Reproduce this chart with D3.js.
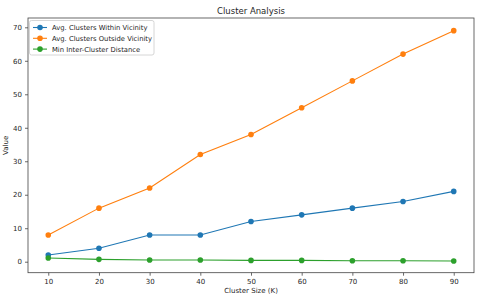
<!DOCTYPE html>
<html>
<head>
<meta charset="utf-8">
<script src="https://cdn.jsdelivr.net/npm/d3@7"></script>
<style>
body{margin:0;background:#fff;}
text{font-family:"DejaVu Sans",sans-serif;fill:#262626;}
</style>
</head>
<body>
<script>
// data
var clusterSizes = [10,20,30,40,50,60,70,80,90];
var withinVicinity = [2,4,8,8,12,14,16,18,21];
var outsideVicinity = [8,16,22,32,38,46,54,62,69];
var minDistance = [1.1,0.7,0.5,0.5,0.4,0.4,0.3,0.3,0.2];
var seriesNames = ["Avg. Clusters Within Vicinity","Avg. Clusters Outside Vicinity","Min Inter-Cluster Distance"];
var colors = ["#1f77b4","#ff7f0e","#2ca02c"];
var xTicks = [10,20,30,40,50,60,70,80,90];
var yTicks = [0,10,20,30,40,50,60,70];

var width = 480, height = 297;
var plotLeft = 28, plotRight = 474, plotTop = 18, plotBottom = 272.7;

var svg = d3.select("body").append("svg")
  .attr("width", width)
  .attr("height", height);

var x = d3.scaleLinear().domain([6,94]).range([plotLeft,plotRight]);
var y = d3.scaleLinear().domain([-3.28,72.78]).range([plotBottom,plotTop]);

var xAxis = svg.append("g")
  .attr("transform","translate(0,"+plotBottom+")")
  .call(d3.axisBottom(x).tickValues(xTicks).tickSize(3).tickPadding(3));
var yAxis = svg.append("g")
  .attr("transform","translate("+plotLeft+",0)")
  .call(d3.axisLeft(y).tickValues(yTicks).tickSize(3).tickPadding(3));
[xAxis,yAxis].forEach(function(a){
  a.select(".domain").remove();
  a.selectAll("text").attr("font-size","7px").attr("font-family","DejaVu Sans").style("fill","#262626");
  a.selectAll("line").attr("stroke","#444").attr("stroke-width",0.8);
});

// frame
svg.append("rect")
  .attr("x",plotLeft).attr("y",plotTop)
  .attr("width",plotRight-plotLeft).attr("height",plotBottom-plotTop)
  .style("fill","none").style("stroke","#444").attr("stroke-width",0.8);

var allSeries = [withinVicinity,outsideVicinity,minDistance];
var line = d3.line()
  .x(function(d,i){return x(clusterSizes[i]);})
  .y(function(d){return y(d);});

allSeries.forEach(function(s,k){
  svg.append("path").datum(s)
    .attr("d",line)
    .style("fill","none")
    .style("stroke",colors[k])
    .attr("stroke-width",1.1);
  svg.append("g").selectAll("circle").data(s).enter().append("circle")
    .attr("cx",function(d,i){return x(clusterSizes[i]);})
    .attr("cy",function(d){return y(d);})
    .attr("r",2.8)
    .style("fill",colors[k]);
});

// title and axis labels
svg.append("text").attr("x",(plotLeft+plotRight)/2).attr("y",14)
  .attr("text-anchor","middle").attr("font-size","8.5px").text("Cluster Analysis");
svg.append("text").attr("x",(plotLeft+plotRight)/2).attr("y",293)
  .attr("text-anchor","middle").attr("font-size","7px").text("Cluster Size (K)");
svg.append("text").attr("transform","translate(8,"+((plotTop+plotBottom)/2)+") rotate(-90)")
  .attr("text-anchor","middle").attr("font-size","7px").text("Value");

// legend
var legend = svg.append("g");
legend.append("rect")
  .attr("x",29.5).attr("y",20.5).attr("width",124.5).attr("height",34.5)
  .attr("rx",2)
  .style("fill","#fff").style("stroke","#ccc").attr("stroke-width",0.8);
seriesNames.forEach(function(n,k){
  var ly = 27.5 + k*10.8;
  legend.append("line").attr("x1",33).attr("x2",47).attr("y1",ly).attr("y2",ly)
    .style("stroke",colors[k]).attr("stroke-width",1.1);
  legend.append("circle").attr("cx",40).attr("cy",ly).attr("r",2.8).style("fill",colors[k]);
  legend.append("text").attr("x",52).attr("y",ly+2.5).attr("font-size","6.8px").text(n);
});
</script>
</body>
</html>
